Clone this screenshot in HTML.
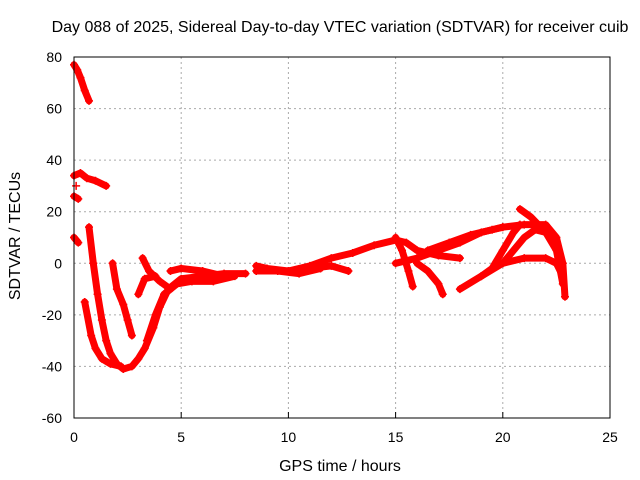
<!DOCTYPE html>
<html><head><meta charset="utf-8"><style>
body{margin:0;background:#fff;}
svg{display:block;font-family:"Liberation Sans",sans-serif;}
</style></head><body>
<svg id="chart" width="640" height="480" viewBox="0 0 640 480">
<text x="340" y="32" font-size="16" text-anchor="middle">Day 088 of 2025, Sidereal Day-to-day VTEC variation (SDTVAR) for receiver cuib</text>
<text x="340" y="471" font-size="16" text-anchor="middle">GPS time / hours</text>
<text transform="translate(20,236) rotate(-90)" font-size="16" text-anchor="middle">SDTVAR / TECUs</text>
<g id="grid"></g><g id="marks"></g>
<rect x="74" y="57" width="536" height="361" fill="none" stroke="#000"/>
</svg>
<script>
const xTicks=[0,5,10,15,20,25];
const yTicks=[-60,-40,-20,0,20,40,60,80];
const track1=[[0,77],[0.15,75],[0.3,72],[0.5,67],[0.7,63]];
const track2=[[0,34],[0.3,35],[0.6,33],[1,32],[1.5,30]];
const track3=[[0,26],[0.2,25]];
const track4=[[0,10],[0.2,8]];
const track5=[[0.1,30]];
const track6=[[0.7,14],[0.9,0],[1.1,-12],[1.3,-22],[1.5,-30],[1.7,-35],[2,-39],[2.3,-41],[2.7,-40],[3,-37],[3.3,-33],[3.7,-25],[4,-17],[4.4,-10],[5,-6],[6,-5],[7,-4],[8,-4]];
const track7=[[0.5,-15],[0.8,-28],[1,-33],[1.3,-37],[1.7,-39],[2.2,-40]];
const track8=[[1.8,0],[2,-10],[2.3,-16],[2.5,-22],[2.7,-28]];
const track9=[[3.2,2],[3.5,-3],[4,-7],[4.5,-10]];
const track10=[[3,-12],[3.3,-6],[3.8,-5]];
const track11=[[4.5,-3],[5,-2],[6,-3],[7,-5]];
const track12=[[8.5,-1],[9,-2],[10,-3],[11,-2],[12,-1],[12.8,-3]];
const track13=[[10,-3],[11,-1],[12,2],[13,4],[14,7],[15,9],[15.5,8],[16,5],[17,3],[18,2]];
const track14=[[15,10],[15.3,5],[15.6,-3],[15.8,-9]];
const track15=[[15,0],[16,2],[17,5],[18,8],[19,12],[20,14],[21,15],[22,15],[22.5,10],[22.8,0],[22.9,-13]];
const track16=[[16,0],[16.5,-3],[17,-8],[17.2,-12]];
const track17=[[16.5,5],[17.5,8],[18.5,11],[19.5,13],[20,14]];
const track18=[[18,-10],[19,-5],[20,0],[20.5,5],[21,10],[21.5,13],[22,12]];
const track19=[[19,-5],[19.5,-2],[20,5],[20.5,12],[20.8,15]];
const track20=[[20,0],[21,2],[22,2],[22.5,0],[22.8,-5]];
const track21=[[20.8,21],[21.3,18],[22,12],[22.5,5],[22.8,-8]];
const track22=[[3.4,-30],[3.8,-20],[4.2,-12],[4.8,-8],[5.5,-7],[6.5,-7],[7.5,-5]];
const track23=[[8.5,-3],[9.5,-3],[10.5,-4],[11.5,-2]];
const tracks=[track1,track2,track3,track4,track5,track6,track7,track8,track9,track10,track11,track12,track13,track14,track15,track16,track17,track18,track19,track20,track21,track22,track23];
const X=v=>74+v*536/25, Y=v=>418-(v+60)*361/140;
const NS="http://www.w3.org/2000/svg";
const grid=document.getElementById('grid'), marks=document.getElementById('marks');
function mk(tag,a,p){const e=document.createElementNS(NS,tag);for(const k in a)e.setAttribute(k,a[k]);p.appendChild(e);return e;}
xTicks.forEach(t=>{
 if(t>0&&t<25){const g=mk('line',{x1:X(t),x2:X(t),y1:57,y2:418,stroke:'#aaa','stroke-dasharray':'2,3'},grid);
 
 }
 const tk=mk('line',{x1:X(t),x2:X(t),y1:418,y2:412,stroke:'#000'},grid);
 
 
 const l=mk('text',{x:X(t),y:442,'font-size':14,'text-anchor':'middle'},grid);l.textContent=t;
 
 
});
yTicks.forEach(t=>{
 if(t>-60&&t<80){const g=mk('line',{x1:74,x2:610,y1:Y(t),y2:Y(t),stroke:'#aaa','stroke-dasharray':'2,3'},grid);
 
 }
 const l=mk('text',{x:62,y:Y(t)+5,'font-size':14,'text-anchor':'end'},grid);l.textContent=t;
 
 
});
tracks.forEach((tr,i)=>{
 const g=mk('g',{},marks);
 
 
 if(tr.length>1){const pl=mk('polyline',{points:tr.map(p=>X(p[0])+','+Y(p[1])).join(' '),fill:'none',stroke:'#f00','stroke-width':7,'stroke-linejoin':'round','stroke-linecap':'round'},g);
 
 }
 tr.forEach(p=>{const x=X(p[0]),y=Y(p[1]);
  const m=mk('path',{d:`M${x-4},${y}H${x+4}M${x},${y-4}V${y+4}`,stroke:'#f00','stroke-width':1.5},g);
  
  
 });
});
</script>
</body></html>
